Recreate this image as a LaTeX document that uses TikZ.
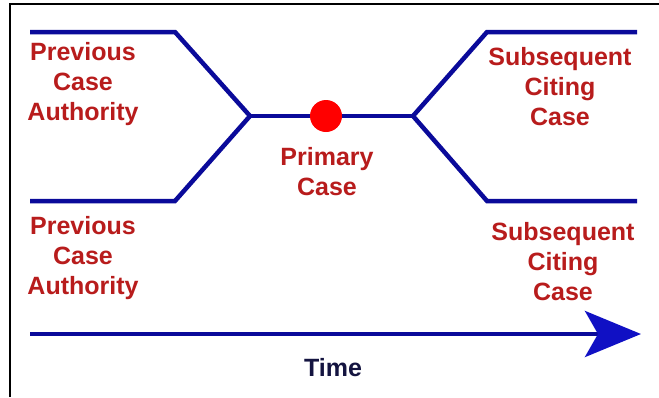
\documentclass[tikz,border=0pt]{standalone}
\usepackage{fontspec}
\setmainfont{Liberation Sans}
\usetikzlibrary{arrows.meta}
\definecolor{navy}{HTML}{0A0A9A}
\definecolor{arrowblue}{HTML}{1010C4}
\definecolor{labelred}{HTML}{B81C1C}
\definecolor{timeblue}{HTML}{141440}
\tikzset{
  branch/.style={draw=navy, line width=4.5pt, line join=miter},
  lbl/.style={text=labelred, font=\fontsize{25}{30}\selectfont\bfseries, align=center, inner sep=0pt},
}
\begin{document}
\begin{tikzpicture}[x=1pt,y=-1pt]
\useasboundingbox (0,0) rectangle (659,397);
\fill[white] (0,0) rectangle (659,397);
\draw[black, line width=1.2pt] (10,397) -- (10,4) -- (659,4);
% vertices
\coordinate (tl0) at (30,32);
\coordinate (tl1) at (175,32);
\coordinate (bl0) at (30,201);
\coordinate (bl1) at (175,201);
\coordinate (jl) at (250,116);
\coordinate (jr) at (413,116);
\coordinate (tr1) at (487,32);
\coordinate (tr0) at (637,32);
\coordinate (br1) at (487,201);
\coordinate (br0) at (637,201);
\coordinate (t0) at (30,334);
\coordinate (t1) at (641,334);
% branches
\draw[branch] (tl0) -- (tl1) -- (jl) -- (bl1) -- (bl0);
\draw[branch] (jl) -- (jr);
\draw[branch] (tr0) -- (tr1) -- (jr) -- (br1) -- (br0);
\node[circle, fill=red, minimum size=32pt, inner sep=0pt] (pc) at (326,116) {};
% time arrow
\draw[navy, line width=4.5pt, -{Stealth[length=56pt,width=46pt,inset=13pt,color=arrowblue]}] (t0) -- (t1);
% labels
\node[lbl] (pca1) at (83,84) {Previous\\Case\\Authority};
\node[lbl] (pca2) at (83,258) {Previous\\Case\\Authority};
\node[lbl] (prim) at (327,172) {Primary\\Case};
\node[lbl] (sub1) at (560,87) {Subsequent\\Citing\\Case};
\node[lbl] (sub2) at (563,262) {Subsequent\\Citing\\Case};
\node[text=timeblue, font=\fontsize{25}{30}\selectfont\bfseries, inner sep=0pt] (time) at (333,368) {Time};
\end{tikzpicture}
\end{document}
